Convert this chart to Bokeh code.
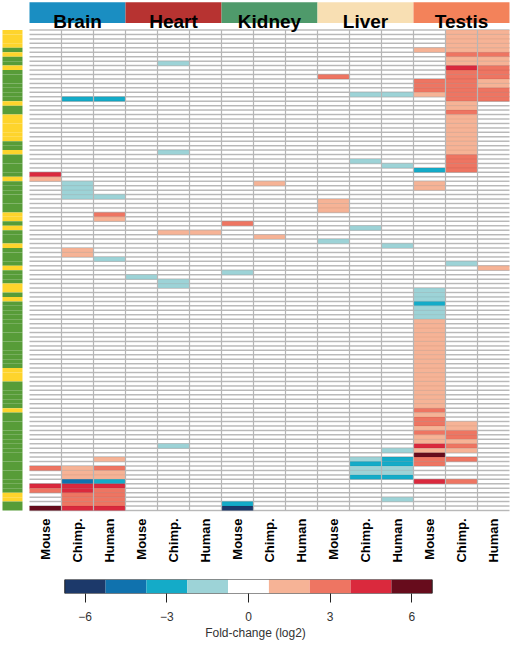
import math
from bokeh.plotting import figure
from bokeh.models import Range1d, ColumnDataSource, FixedTicker
from bokeh.transform import linear_cmap
from bokeh.layouts import column
from bokeh.core.properties import value
from bokeh.embed import file_html
from bokeh.resources import INLINE

# ---------------- data ----------------
tissues = ["Brain", "Heart", "Kidney", "Liver", "Testis"]
species = ["Mouse", "Chimp.", "Human"]
n_rows = 108

# entries: (first_row, last_row, log2 fold-change)
brain_mouse = [(32, 32, 4.5), (33, 33, 1.5), (98, 98, 3), (102, 102, 4.5), (103, 103, 3), (107, 107, 6)]
brain_chimp = [(15, 15, -3), (34, 37, -1.5), (49, 50, 1.5), (98, 100, 1.5), (101, 101, -4.5),
               (102, 103, 4.5), (104, 106, 3), (107, 107, 4.5)]
brain_human = [(15, 15, -3), (37, 37, -1.5), (41, 41, 3), (42, 42, 1.5), (51, 51, -1.5), (96, 96, 1.5),
               (98, 98, 3), (99, 100, 1.5), (101, 101, -3), (102, 102, 4.5), (103, 106, 3), (107, 107, 4.5)]
heart_mouse = [(55, 55, -1.5)]
heart_chimp = [(7, 7, -1.5), (27, 27, -1.5), (45, 45, 1.5), (56, 57, -1.5), (93, 93, -1.5)]
heart_human = [(45, 45, 1.5)]
kidney_mouse = [(43, 43, 3), (54, 54, -1.5), (106, 106, -3), (107, 107, -6)]
kidney_chimp = [(34, 34, 1.5), (46, 46, 1.5)]
kidney_human = []
liver_mouse = [(10, 10, 3), (38, 40, 1.5), (47, 47, -1.5)]
liver_chimp = [(14, 14, -1.5), (29, 29, -1.5), (44, 44, -1.5), (96, 96, -1.5), (97, 97, -3),
               (98, 99, -1.5), (100, 100, -3)]
liver_human = [(14, 14, -1.5), (30, 30, -1.5), (48, 48, -1.5), (94, 94, -1.5), (96, 97, -3),
               (98, 99, -1.5), (100, 100, -3), (105, 105, -1.5)]
testis_mouse = [(4, 4, 1.5), (11, 13, 3), (14, 14, 1.5), (31, 31, -3), (34, 35, 1.5), (58, 60, -1.5),
                (61, 61, -3), (62, 64, -1.5), (65, 84, 1.5), (85, 85, 3), (86, 86, 1.5), (87, 88, 3),
                (89, 89, 1.5), (90, 90, 3), (91, 92, 1.5), (93, 93, 4.5), (94, 94, 1.5), (95, 95, 6),
                (96, 97, 3), (101, 101, 4.5)]
testis_chimp = [(0, 4, 1.5), (5, 5, 3), (6, 7, 1.5), (8, 8, 4.5), (9, 15, 3), (16, 17, 1.5), (18, 18, 3),
                (19, 27, 1.5), (28, 31, 3), (52, 52, -1.5), (88, 89, 1.5), (90, 91, 3), (92, 92, 1.5),
                (93, 93, 3), (94, 94, 1.5), (96, 96, 3), (101, 101, 3)]
testis_human = [(0, 4, 1.5), (5, 5, 3), (6, 7, 1.5), (8, 10, 3), (11, 12, 1.5), (13, 15, 3), (53, 53, 1.5)]

columns_data = [brain_mouse, brain_chimp, brain_human,
                heart_mouse, heart_chimp, heart_human,
                kidney_mouse, kidney_chimp, kidney_human,
                liver_mouse, liver_chimp, liver_human,
                testis_mouse, testis_chimp, testis_human]

# rows flagged yellow in the left annotation bar (others green)
yellow_rows = [0, 1, 2, 3, 5, 8, 16, 19, 20, 21, 22, 23, 24, 27, 33, 41, 42, 44, 48, 53,
               57, 58, 60, 76, 77, 78, 85, 104, 105]

legend_ticks = [-6, -3, 0, 3, 6]
fc_low, fc_high = -6.75, 6.75

# ---------------- styles ----------------
palette = ["#1c396a", "#1072ae", "#14abc8", "#9dd3d7", "#ffffff",
           "#f6b396", "#ee7562", "#da293d", "#670c1c"]
tissue_colors = ["#1a8ec2", "#b73331", "#4f9a6b", "#f8dfb3", "#f3825a"]
yellow, green = "#fed42c", "#579c38"
FONT = "Liberation Sans"

# ---------------- main figure ----------------
p = figure(width=510, height=568, x_range=Range1d(-0.90625, 15.03125), y_range=Range1d(121.04, -6.631),
           output_backend="svg", toolbar_location=None, min_border=0)
p.axis.visible = False
p.grid.visible = False
p.outline_line_color = None
p.background_fill_color = "white"

# grey row lines beneath cells
rows_b = list(range(n_rows + 1))
p.segment(x0=[0] * len(rows_b), x1=[15] * len(rows_b), y0=rows_b, y1=rows_b,
          line_color="#c4c4c4", line_width=1.5)

# heatmap cells
xs, ys, vals = [], [], []
for ci, entries in enumerate(columns_data):
    for (r0, r1, v) in entries:
        for r in range(r0, r1 + 1):
            xs.append(ci + 0.5)
            ys.append(r + 0.5)
            vals.append(v)
src = ColumnDataSource(dict(x=xs, y=ys, v=vals))
p.rect(x="x", y="y", width=1, height=1, source=src,
       fill_color=linear_cmap("v", palette, fc_low, fc_high), line_color=None)

# faint row lines over colored cells
p.segment(x0=[0] * len(rows_b), x1=[15] * len(rows_b), y0=rows_b, y1=rows_b,
          line_color="black", line_alpha=0.06, line_width=1.2)

# vertical column separators
cols_b = list(range(1, 15))
p.segment(x0=cols_b, x1=cols_b, y0=[0] * len(cols_b), y1=[n_rows] * len(cols_b),
          line_color="#b6b6b6", line_width=1.2)

# left annotation bar
side_colors = [yellow if r in yellow_rows else green for r in range(n_rows)]
p.quad(left=-0.844, right=-0.219, bottom=[r + 1 for r in range(n_rows)], top=list(range(n_rows)),
       fill_color=side_colors, line_color=None)

# tissue header
p.quad(left=[3 * t for t in range(5)], right=[3 * t + 3 for t in range(5)],
       top=-6.25, bottom=-1.55, fill_color=tissue_colors, line_color=None)
p.text(x=[3 * t + 1.5 for t in range(5)], y=[-1.98] * 5, text=tissues,
       text_align="center", text_baseline="alphabetic", text_font=value(FONT),
       text_font_size="19px", text_font_style="bold", text_color="black")

# species labels
labels = [s for _ in tissues for s in species]
p.text(x=[c + 0.5 for c in range(15)], y=[109.8] * 15, text=labels, angle=math.pi / 2,
       text_align="right", text_baseline="middle", text_font=value(FONT),
       text_font_size="13px", text_font_style="bold", text_color="black")

# ---------------- colour legend ----------------
lg = figure(width=510, height=74, x_range=Range1d(-9.112, 9.627), y_range=Range1d(0, 1),
            output_backend="svg", toolbar_location=None,
            min_border_left=0, min_border_right=0, min_border_top=11, min_border_bottom=46)
step = (fc_high - fc_low) / len(palette)
edges = [fc_low + i * step for i in range(len(palette) + 1)]
lg.quad(left=edges[:-1], right=edges[1:], bottom=0, top=1, fill_color=palette, line_color=None)
lg.quad(left=fc_low, right=fc_high, bottom=0, top=1, fill_color=None,
        line_color="#222222", line_width=1)
lg.yaxis.visible = False
lg.grid.visible = False
lg.outline_line_color = None
ax = lg.xaxis[0]
ax.ticker = FixedTicker(ticks=legend_ticks)
ax.major_label_overrides = {t: (("\u2212" + str(-t)) if t < 0 else str(t)) for t in legend_ticks}
ax.axis_line_color = None
ax.major_tick_in = 0
ax.major_tick_out = 9
ax.major_tick_line_color = "#222222"
ax.minor_tick_line_color = None
ax.major_label_standoff = 9
ax.major_label_text_font = FONT
ax.major_label_text_font_size = "12px"
ax.major_label_text_color = "#333333"
ax.axis_label = "Fold-change (log2)"
ax.axis_label_text_font = FONT
ax.axis_label_text_font_style = "normal"
ax.axis_label_text_font_size = "12px"
ax.axis_label_text_color = "#333333"
ax.axis_label_standoff = 2

layout = column(p, lg)
open("out.html", "w").write(file_html(layout, INLINE))
